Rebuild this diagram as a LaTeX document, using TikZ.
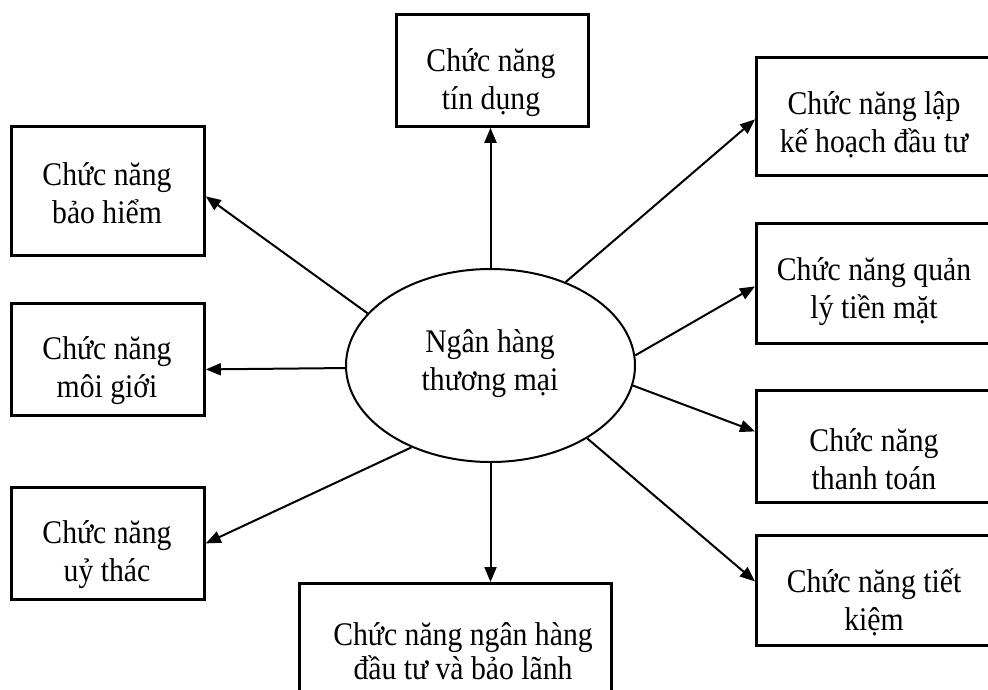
\documentclass[tikz,border=0pt]{standalone}
\usepackage{fontspec}
\setmainfont{Liberation Serif}[FakeStretch=0.9]
\usetikzlibrary{shapes.geometric,arrows.meta}
\tikzset{
  box/.style={draw, line width=2.8pt, inner sep=0pt, anchor=north west},
  lbl/.style={inner sep=0pt, align=center, font=\fontsize{33}{38}\selectfont},
  ell/.style={draw, ellipse, line width=2pt, inner sep=0pt, minimum width=289pt,
    minimum height=193pt},
  arr/.style={line width=2pt, -{Triangle[length=15pt,width=12pt]}}
}
\begin{document}
\begin{tikzpicture}[x=1pt,y=-1pt]
\clip (0,0) rectangle (988,689);
\fill[white] (0,0) rectangle (988,689);
% centre
\node[ell] (c) at (490.5,365.5) {};
\node[lbl] (ct) at (490,363.5) {Ngân hàng\\thương mại};
% boxes
\node[box, minimum width=192pt, minimum height=112pt] (tin) at (395,13) {};
\node[box, minimum width=193pt, minimum height=129pt] (bh) at (10,125) {};
\node[box, minimum width=193pt, minimum height=112pt] (mg) at (10,302) {};
\node[box, minimum width=193pt, minimum height=112pt] (ut) at (10,486) {};
\node[box, minimum width=312pt, minimum height=150pt] (nh) at (298,582) {};
\node[box, minimum width=238pt, minimum height=118pt] (lap) at (755,56) {};
\node[box, minimum width=238pt, minimum height=120pt] (ql) at (755,222) {};
\node[box, minimum width=238pt, minimum height=112pt] (tt) at (755,389) {};
\node[box, minimum width=238pt, minimum height=110pt] (tk) at (755,534) {};
% texts
\node[lbl] (tint) at (491,82.5) {Chức năng\\tín dụng};
\node[lbl] (bht) at (107,193) {Chức năng\\bảo hiểm};
\node[lbl] (mgt) at (107,371) {Chức năng\\môi giới};
\node[lbl] (utt) at (107,555) {Chức năng\\uỷ thác};
\node[lbl, font=\fontsize{33}{34}\selectfont] (nht) at (463,651) {Chức năng ngân hàng\\đầu tư và bảo lãnh};
\node[lbl] (lapt) at (874,125) {Chức năng lập\\kế hoạch đầu tư};
\node[lbl] (qlt) at (874,291.5) {Chức năng quản\\lý tiền mặt};
\node[lbl] (ttt) at (874,459) {Chức năng\\thanh toán};
\node[lbl] (tkt) at (874,602.5) {Chức năng tiết\\kiệm};
% connectors
\draw[arr] (c.north) -- (c.north |- tin.south);
\draw[arr] (c.157.7) -- ([yshift=-5.5pt]bh.east);
\draw[arr] (c.181) -- ([yshift=-10pt]mg.east);
\draw[arr] (c.226.8) -- (ut.east);
\draw[arr] (c.south) -- (c.south |- nh.north);
\draw[arr] (c.48.3) -- ([yshift=-3pt]lap.west);
\draw[arr] (c.4.2) -- ([yshift=-3pt]ql.west);
\draw[arr] (c.352.2) -- ([yshift=15pt]tt.west);
\draw[arr] (c.323.4) -- ([yshift=9pt]tk.west);
\end{tikzpicture}
\end{document}
